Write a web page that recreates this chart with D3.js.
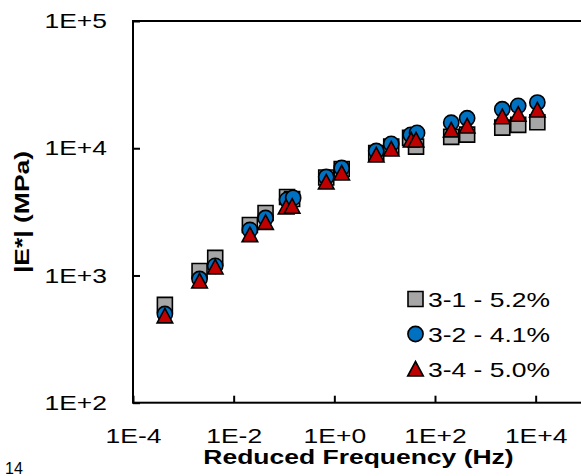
<!DOCTYPE html>
<html>
<head>
<meta charset="utf-8">
<script src="https://cdn.jsdelivr.net/npm/d3@7"></script>
<style>
  html, body { margin: 0; padding: 0; background: #fff; overflow: hidden; }
  text { font-family: "Liberation Sans", Arial, sans-serif; fill: #000; }
</style>
</head>
<body>
<div id="chart"></div>
<script>
// reduced frequency (Hz) and |E*| (MPa)
const freq31 = [4.3e-4, 2.1e-3, 4.3e-3, 0.021, 0.043, 0.115, 0.145, 0.69, 1.4, 6.8, 13.5, 32, 42, 210, 435, 2170, 4500, 10800];
const mod31  = [587, 1084, 1374, 2494, 3097, 4140, 3990, 5890, 6870, 9180, 10300, 12060, 10300, 12280, 12790, 14520, 15250, 16000];

const freq32 = [4.3e-4, 2.1e-3, 4.3e-3, 0.021, 0.043, 0.115, 0.152, 0.69, 1.4, 6.8, 13.5, 33, 44, 210, 435, 2170, 4500, 10800];
const mod32  = [498, 938, 1189, 2280, 2830, 3930, 4070, 5940, 6990, 9520, 10820, 12740, 13200, 15880, 17200, 20270, 21530, 22860];

const freq34 = [4.3e-4, 2.1e-3, 4.3e-3, 0.021, 0.043, 0.110, 0.145, 0.69, 1.4, 6.8, 13.5, 33.6, 42, 210, 435, 2170, 4500, 10800];
const mod34  = [481, 906, 1167, 2094, 2612, 3460, 3500, 5430, 6390, 8850, 9870, 11610, 11610, 13930, 14970, 17700, 18500, 20000];

const seriesNames = ["3-1 - 5.2%", "3-2 - 4.1%", "3-4 - 5.0%"];
const xTicks = [1e-4, 1e-2, 1e0, 1e2, 1e4];
const yTicks = [1e2, 1e3, 1e4, 1e5];

const W = 581, H = 476;
const plot = { left: 133, top: 21, right: 586, bottom: 402.7 };
const stretch = 1.26;   // the original font is wider than Arial

const svg = d3.select("#chart").append("svg")
  .attr("width", W).attr("height", H);

const x = d3.scaleLog().domain([1e-4, 1e5]).range([plot.left, plot.right]);
const y = d3.scaleLog().domain([1e2, 1e5]).range([plot.bottom, plot.top]);

const fmt = d => {
  const e = Math.round(Math.log10(d));
  return "1E" + (e < 0 ? "-" : "+") + Math.abs(e);
};

function widen(sel) {
  sel.each(function () {
    const len = this.getComputedTextLength();
    d3.select(this).attr("textLength", len * stretch).attr("lengthAdjust", "spacingAndGlyphs");
  });
}

// axes
const xAxis = svg.append("g")
  .attr("transform", `translate(0,${plot.bottom})`)
  .call(d3.axisBottom(x).tickValues(xTicks).tickFormat(fmt)
    .tickSizeInner(-7).tickSizeOuter(0).tickPadding(25));

const yAxis = svg.append("g")
  .attr("transform", `translate(${plot.left},0)`)
  .call(d3.axisLeft(y).tickValues(yTicks).tickFormat(fmt)
    .tickSizeInner(-7).tickSizeOuter(0).tickPadding(26));

[xAxis, yAxis].forEach(a => {
  a.select(".domain").remove();
  a.selectAll(".tick line").attr("stroke", "#000").attr("stroke-width", 2);
  a.selectAll(".tick text").style("font-size", "21px").attr("fill", "#000");
});
xAxis.selectAll(".tick text").call(widen);
yAxis.selectAll(".tick text").call(widen);

// plot frame
svg.append("rect")
  .attr("x", plot.left).attr("y", plot.top)
  .attr("width", plot.right - plot.left).attr("height", plot.bottom - plot.top)
  .attr("fill", "none").attr("stroke", "#000").attr("stroke-width", 2);

// marker shapes
const shapes = {
  square: "M-7.5,-7.5H7.5V7.5H-7.5Z",
  circle: d3.symbol().type(d3.symbolCircle).size(Math.PI * 7.6 * 7.6)(),
  triangle: "M0,-7.5L7.8,7L-7.8,7Z"
};

const series = [
  { name: seriesNames[0], f: freq31, e: mod31, shape: "square", fill: "#A6A6A6" },
  { name: seriesNames[1], f: freq32, e: mod32, shape: "circle", fill: "#0070C0" },
  { name: seriesNames[2], f: freq34, e: mod34, shape: "triangle", fill: "#C00000" }
];

series.forEach(s => {
  const pts = s.f.map((f, i) => ({ f: f, e: s.e[i] }));
  svg.append("g").selectAll("path").data(pts).enter().append("path")
    .attr("d", shapes[s.shape])
    .attr("transform", d => `translate(${x(d.f)},${y(d.e)})`)
    .attr("fill", s.fill)
    .attr("stroke", "#000")
    .attr("stroke-width", 1.6);
});

// legend
const legend = svg.append("g");
const legendY = [299, 334, 369];
series.forEach((s, i) => {
  legend.append("path")
    .attr("d", shapes[s.shape])
    .attr("transform", `translate(415.5,${legendY[i]})`)
    .attr("fill", s.fill).attr("stroke", "#000").attr("stroke-width", 1.6);
  legend.append("text")
    .attr("x", 428).attr("y", legendY[i] + 8)
    .style("font-size", "21px")
    .text(s.name);
});
legend.selectAll("text").call(widen);

// axis titles
svg.append("text")
  .attr("x", 358.5).attr("y", 463.5)
  .attr("text-anchor", "middle")
  .style("font-size", "21px").style("font-weight", "bold")
  .text("Reduced Frequency (Hz)")
  .call(widen);

svg.append("text")
  .attr("transform", "rotate(-90)")
  .attr("x", -212).attr("y", 29)
  .attr("text-anchor", "middle")
  .style("font-size", "21px").style("font-weight", "bold")
  .text("|E*| (MPa)")
  .call(widen);

// page number at the bottom edge
svg.append("text")
  .attr("x", 5).attr("y", 474)
  .style("font-size", "16px")
  .text("14");
</script>
</body>
</html>
